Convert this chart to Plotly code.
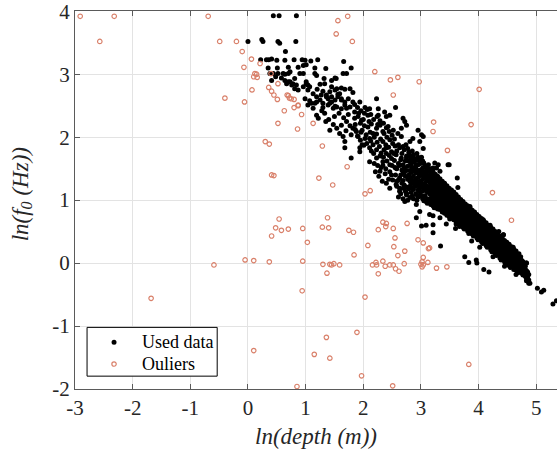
import plotly.graph_objects as go

# ---- data: ln(depth) vs ln(f0) ----
# sparse upper cloud of retained points
used_top = [
    (0.44, 3.93), (0.54, 3.93), (0.84, 3.93),
    (0.00, 3.52), (0.24, 3.55), (0.26, 3.52), (0.52, 3.52), (0.55, 3.49), (0.83, 3.52), (0.65, 3.36),
    (0.22, 3.23), (0.32, 3.23), (0.36, 3.23), (0.41, 3.24), (0.50, 3.22), (0.64, 3.22), (0.80, 3.23),
    (0.94, 3.23), (0.99, 3.22), (1.09, 3.21), (1.21, 3.23), (1.66, 3.20),
    (0.35, 3.10), (0.51, 3.10), (0.70, 3.11), (0.87, 3.11), (0.96, 3.14), (1.01, 3.15), (1.16, 3.10),
    (1.35, 3.09), (1.79, 3.10),
    (0.38, 3.01), (0.44, 3.01), (0.52, 3.01), (0.61, 3.01), (0.64, 3.00), (0.70, 3.01), (0.73, 3.04),
    (0.90, 3.01), (0.96, 3.01), (1.16, 3.01), (1.19, 2.98), (1.65, 3.01), (1.71, 3.01),
    (0.48, 2.96), (0.58, 2.94), (0.41, 2.90), (0.64, 2.90), (0.73, 2.88), (0.78, 2.85), (0.67, 2.85),
    (0.84, 2.83), (0.81, 2.93), (1.01, 2.88), (1.04, 2.83), (1.07, 2.80), (1.25, 2.84), (1.33, 2.85),
    (1.45, 2.90), (1.51, 2.94), (1.54, 2.77), (1.62, 2.78), (1.68, 2.76), (1.77, 2.77), (1.82, 2.71),
    (1.59, 2.69), (1.42, 2.72), (1.30, 2.73), (1.27, 2.67),
    (0.70, 2.88), (0.76, 2.83), (0.81, 2.77), (0.87, 2.75), (0.96, 2.80), (1.01, 2.85), (1.04, 2.75),
    (1.13, 2.69), (1.19, 2.64), (1.25, 2.59), (1.30, 2.54), (1.36, 2.67), (1.45, 2.64), (1.51, 2.75),
    (1.56, 2.68), (1.62, 2.59), (1.68, 2.51), (1.42, 2.54), (1.51, 2.49), (1.16, 2.54), (1.07, 2.58),
    (0.99, 2.61), (1.32, 2.93), (1.53, 2.93), (1.45, 2.80), (1.20, 2.76),
]

# medium-density middle section
used_mid = [
    (1.04, 2.51), (1.10, 2.54), (1.13, 2.46), (1.19, 2.56), (1.36, 2.64), (1.39, 2.61), (1.45, 2.56),
    (1.51, 2.59), (1.56, 2.64), (1.62, 2.61), (1.68, 2.56), (1.74, 2.61), (1.82, 2.56), (1.77, 2.48),
    (1.71, 2.46), (1.62, 2.45), (1.54, 2.48), (1.48, 2.46), (1.39, 2.51), (1.30, 2.47), (1.94, 2.56),
    (2.03, 2.47), (2.11, 2.45), (2.23, 2.61), (2.26, 2.45), (2.37, 2.40), (2.40, 2.33), (2.46, 2.35),
    (2.56, 2.47), (2.26, 2.35),
    (1.19, 2.35), (1.22, 2.30), (1.42, 2.11), (1.54, 2.14), (1.62, 2.19), (1.71, 2.25), (1.77, 2.18),
    (1.82, 2.14), (1.59, 2.06), (1.65, 2.01), (1.68, 1.93), (1.79, 2.04), (1.88, 2.09), (1.91, 2.01),
    (1.98, 2.11), (2.05, 2.04), (2.11, 1.98), (2.17, 2.06), (2.23, 2.14), (2.29, 2.19), (2.34, 2.09),
    (2.43, 2.17), (2.52, 2.11), (2.60, 2.06), (2.66, 2.14), (2.72, 2.25), (2.75, 2.19), (2.69, 2.30),
    (3.01, 2.04), (2.98, 1.93), (2.81, 1.93), (2.86, 1.98), (2.95, 2.11), (3.04, 2.01), (2.66, 2.01),
    (1.68, 1.83), (1.79, 1.67), (1.94, 1.83), (1.94, 1.77), (1.98, 1.88), (2.11, 1.83), (2.17, 1.88),
    (2.23, 1.80), (2.31, 1.75), (2.40, 1.83), (2.49, 1.77), (2.11, 1.61), (2.23, 1.67), (2.34, 1.61),
    (2.29, 1.46), (2.46, 1.56), (2.49, 1.40),
    (1.33, 2.38), (1.40, 2.28), (1.50, 2.33), (1.58, 2.38), (1.66, 2.31), (1.74, 2.36), (1.85, 2.30),
    (1.92, 2.38), (2.00, 2.28), (2.08, 2.35), (1.95, 2.22), (2.02, 2.18), (2.10, 2.25), (1.86, 2.20),
    (1.70, 2.10), (1.48, 2.20), (1.28, 2.42), (1.35, 2.25),
    (1.85, 2.52), (1.85, 2.40), (1.86, 2.12), (1.90, 2.47), (1.91, 2.33), (1.90, 2.02),
    (1.96, 2.42), (1.97, 2.27), (1.96, 2.08), (1.95, 1.95), (2.02, 2.38), (2.03, 1.98), (2.01, 1.87),
    (2.07, 2.44), (2.08, 2.16), (2.06, 1.90), (2.13, 2.36), (2.14, 2.21), (2.12, 2.08), (2.13, 1.94),
    (2.14, 1.78), (2.18, 2.28), (2.19, 2.00), (2.18, 1.74), (2.24, 2.33), (2.25, 2.20), (2.23, 2.05),
    (2.24, 1.92), (2.25, 1.55), (2.29, 2.26), (2.30, 1.97), (2.28, 1.85), (2.29, 1.70), (2.35, 2.22),
    (2.36, 2.06), (2.34, 1.93), (2.36, 1.80), (2.35, 1.68), (2.34, 1.55), (2.40, 2.15), (2.41, 2.00),
    (2.39, 1.88), (2.40, 1.74), (2.41, 1.62), (2.39, 1.50), (2.45, 2.09), (2.46, 1.96), (2.44, 1.84),
    (2.45, 1.71), (2.46, 1.45), (2.50, 2.03), (2.51, 1.90), (2.49, 1.66), (2.50, 1.55), (2.51, 1.32),
    (2.54, 1.97), (2.55, 1.86), (2.53, 1.74), (2.54, 1.63), (2.55, 1.52), (2.56, 1.40), (2.57, 1.72),
    (2.57, 1.51), (2.66, 1.67), (2.75, 1.67), (2.81, 1.61), (2.92, 1.56), (3.04, 1.59), (2.86, 1.51),
    (2.69, 1.46), (2.98, 1.40), (3.09, 1.46), (3.21, 1.51), (3.27, 1.51), (3.30, 1.56), (3.47, 1.56),
    (3.63, 1.35), (3.24, 1.59), (3.33, 1.46), (3.49, 1.56), (3.04, 1.82), (2.86, 1.64), (2.74, 1.88),
    (2.21, 1.45), (2.27, 1.38), (2.33, 1.30), (2.38, 1.42), (2.44, 1.33), (2.19, 1.58), (2.31, 1.52),
]

# dense main band, first set of columns: x value and the ln(f0) values read in that column
band_x = [
    2.58, 2.63, 2.67, 2.71, 2.75, 2.79, 2.83, 2.87, 2.91, 2.95, 2.99, 3.03, 3.07, 3.11, 3.15,
    3.19, 3.23, 3.27, 3.31, 3.35, 3.39, 3.43, 3.47, 3.51, 3.55, 3.59, 3.63, 3.67, 3.71, 3.75,
    3.79, 3.83, 3.87, 3.91, 3.95, 3.99, 4.03, 4.07, 4.11, 4.15, 4.19, 4.23, 4.27, 4.31, 4.35,
    4.39, 4.43, 4.47, 4.51, 4.55, 4.59, 4.63, 4.67, 4.71, 4.75, 4.79, 4.83, 4.87,
]
band_y = [
    [1.78, 1.50, 1.30, 1.22],
    [1.83, 1.55, 1.35, 1.19],
    [1.74, 1.48, 1.27],
    [1.80, 1.52, 1.43, 1.24],
    [1.70, 1.47, 1.21, 1.08],
    [1.76, 1.62, 1.40, 1.18],
    [1.67, 1.55, 1.44, 1.35, 1.26, 1.12],
    [1.72, 1.60, 1.49, 1.38, 1.28, 1.17, 1.02],
    [1.63, 1.52, 1.43, 1.33, 1.22, 1.10],
    [1.68, 1.56, 1.45, 1.36, 1.27, 1.16, 1.05],
    [1.58, 1.48, 1.39, 1.30, 1.20, 1.09],
    [1.62, 1.51, 1.42, 1.33, 1.24, 1.14, 1.02],
    [1.55, 1.45, 1.36, 1.27, 1.18, 1.07],
    [1.50, 1.40, 1.31, 1.22, 1.13, 1.02, 0.95],
    [1.46, 1.37, 1.28, 1.19, 1.10, 1.00],
    [1.42, 1.33, 1.25, 1.16, 1.07, 0.97],
    [1.38, 1.29, 1.21, 1.13, 1.04, 0.95, 0.88],
    [1.34, 1.26, 1.18, 1.10, 1.01, 0.92],
    [1.31, 1.23, 1.15, 1.07, 0.98, 0.90],
    [1.27, 1.19, 1.11, 1.03, 0.95, 0.87],
    [1.24, 1.16, 1.08, 1.00, 0.92, 0.84],
    [1.20, 1.12, 1.05, 0.97, 0.89, 0.82],
    [1.16, 1.09, 1.02, 0.94, 0.87, 0.79],
    [1.13, 1.06, 0.99, 0.91, 0.84, 0.77],
    [1.10, 1.03, 0.96, 0.89, 0.81, 0.74],
    [1.06, 0.99, 0.92, 0.85, 0.78, 0.71],
    [1.02, 0.95, 0.89, 0.82, 0.75, 0.68],
    [0.98, 0.92, 0.86, 0.79, 0.72, 0.66, 0.58],
    [0.95, 0.89, 0.83, 0.76, 0.69, 0.63],
    [0.91, 0.85, 0.79, 0.73, 0.66, 0.60, 0.54],
    [0.88, 0.82, 0.76, 0.70, 0.63, 0.57],
    [0.85, 0.79, 0.73, 0.67, 0.61, 0.54, 0.47],
    [0.81, 0.75, 0.70, 0.64, 0.58, 0.52],
    [0.78, 0.72, 0.66, 0.61, 0.55, 0.49, 0.43],
    [0.74, 0.69, 0.63, 0.57, 0.52, 0.46],
    [0.71, 0.66, 0.60, 0.54, 0.49, 0.43, 0.37],
    [0.68, 0.62, 0.57, 0.51, 0.46, 0.40],
    [0.64, 0.59, 0.54, 0.48, 0.42, 0.37, 0.31],
    [0.61, 0.56, 0.50, 0.45, 0.39, 0.34],
    [0.57, 0.52, 0.47, 0.41, 0.36, 0.30, 0.25],
    [0.54, 0.49, 0.44, 0.38, 0.33, 0.27],
    [0.51, 0.46, 0.40, 0.35, 0.29, 0.24, 0.18],
    [0.47, 0.42, 0.37, 0.32, 0.26, 0.21],
    [0.44, 0.39, 0.34, 0.28, 0.23, 0.17, 0.12],
    [0.40, 0.35, 0.30, 0.25, 0.20, 0.14],
    [0.37, 0.32, 0.27, 0.22, 0.16, 0.11, 0.05],
    [0.45, 0.33, 0.28, 0.23, 0.18, 0.13, 0.07],
    [0.30, 0.25, 0.20, 0.15, 0.10, 0.04, -0.01],
    [0.27, 0.22, 0.16, 0.11, 0.06, 0.01],
    [0.23, 0.18, 0.13, 0.08, 0.03, -0.03, -0.07],
    [0.20, 0.15, 0.10, 0.05, 0.00, -0.06],
    [0.16, 0.11, 0.06, 0.01, -0.04, -0.09],
    [0.12, 0.07, 0.02, -0.03, -0.08, -0.13],
    [0.08, 0.03, -0.02, -0.07, -0.12],
    [0.04, -0.01, -0.06, -0.11, -0.16],
    [-0.02, -0.08, -0.13, -0.18],
    [0.00, -0.12, -0.20, -0.24],
    [-0.18, -0.27, -0.32],
]

# dense main band, second set of columns lying between the first
band2_x = [
    2.61, 2.65, 2.69, 2.73, 2.77, 2.81, 2.85, 2.89, 2.93, 2.97, 3.01, 3.05, 3.09, 3.13, 3.17,
    3.21, 3.25, 3.29, 3.33, 3.37, 3.41, 3.45, 3.49, 3.53, 3.57, 3.61, 3.65, 3.69, 3.73, 3.77,
    3.81, 3.85, 3.89, 3.93, 3.97, 4.01, 4.05, 4.09, 4.13, 4.17, 4.21, 4.25, 4.29, 4.33, 4.37,
    4.41, 4.45, 4.49, 4.53, 4.57, 4.61, 4.65, 4.69, 4.73, 4.77, 4.81, 4.85,
]
band2_y = [
    [1.88, 1.58, 1.32, 1.05],
    [1.64, 1.40, 1.10],
    [1.85, 1.56, 1.31, 1.02],
    [1.62, 1.38, 1.14],
    [1.82, 1.54, 1.33, 1.00],
    [1.71, 1.47, 1.22],
    [1.78, 1.52, 1.31, 1.06],
    [1.66, 1.46, 1.25],
    [1.74, 1.48, 1.30, 1.00],
    [1.63, 1.41, 1.23],
    [1.68, 1.45, 1.27, 1.06],
    [1.59, 1.39, 1.21, 0.99],
    [1.53, 1.34, 1.16],
    [1.56, 1.34, 1.16, 0.97],
    [1.50, 1.40, 1.31, 1.22, 1.13, 1.03, 0.93],
    [1.45, 1.35, 1.27, 1.18, 1.10, 1.00, 0.91],
    [1.41, 1.32, 1.24, 1.15, 1.07, 0.98, 0.89],
    [1.38, 1.29, 1.21, 1.13, 1.04, 0.96, 0.86],
    [1.34, 1.25, 1.17, 1.09, 1.01, 0.93, 0.85],
    [1.30, 1.22, 1.14, 1.06, 0.98, 0.90, 0.81],
    [1.27, 1.18, 1.10, 1.02, 0.95, 0.87, 0.79],
    [1.23, 1.15, 1.07, 0.99, 0.92, 0.84, 0.76],
    [1.19, 1.12, 1.05, 0.97, 0.90, 0.82, 0.74],
    [1.16, 1.09, 1.02, 0.94, 0.87, 0.80, 0.72],
    [1.13, 1.06, 0.99, 0.92, 0.84, 0.77, 0.69],
    [1.09, 1.02, 0.95, 0.88, 0.81, 0.74, 0.66],
    [1.05, 0.99, 0.92, 0.85, 0.78, 0.71, 0.63],
    [1.01, 0.95, 0.88, 0.82, 0.75, 0.69, 0.61],
    [0.98, 0.92, 0.86, 0.79, 0.72, 0.66, 0.57],
    [0.94, 0.88, 0.82, 0.76, 0.69, 0.63, 0.56],
    [0.91, 0.85, 0.79, 0.73, 0.66, 0.60, 0.51],
    [0.88, 0.82, 0.76, 0.70, 0.64, 0.57, 0.50],
    [0.84, 0.78, 0.73, 0.67, 0.61, 0.55, 0.46],
    [0.81, 0.75, 0.69, 0.64, 0.58, 0.52, 0.45],
    [0.77, 0.72, 0.66, 0.60, 0.55, 0.49, 0.40],
    [0.74, 0.69, 0.63, 0.57, 0.52, 0.46, 0.39],
    [0.71, 0.65, 0.60, 0.54, 0.49, 0.43, 0.34],
    [0.67, 0.62, 0.57, 0.51, 0.45, 0.40, 0.33],
    [0.64, 0.59, 0.53, 0.48, 0.42, 0.37, 0.28],
    [0.60, 0.55, 0.50, 0.44, 0.39, 0.33, 0.27],
    [0.57, 0.52, 0.47, 0.41, 0.36, 0.30, 0.21],
    [0.54, 0.49, 0.43, 0.38, 0.32, 0.27, 0.20],
    [0.50, 0.45, 0.40, 0.35, 0.29, 0.24, 0.15],
    [0.47, 0.42, 0.37, 0.31, 0.26, 0.20, 0.14],
    [0.43, 0.38, 0.33, 0.28, 0.23, 0.17, 0.08],
    [0.40, 0.35, 0.30, 0.25, 0.19, 0.14, 0.08],
    [0.36, 0.31, 0.26, 0.21, 0.16, 0.10, 0.02],
    [0.33, 0.28, 0.23, 0.18, 0.13, 0.07, 0.02],
    [0.30, 0.25, 0.19, 0.14, 0.09, 0.04, -0.04],
    [0.26, 0.21, 0.16, 0.11, 0.06, 0.00, -0.05],
    [0.22, 0.17, 0.12, 0.07, 0.02, -0.03, -0.10],
    [0.19, 0.14, 0.09, 0.04, -0.01, -0.06, -0.11],
    [0.14, 0.09, 0.04, -0.01, -0.06, -0.10, -0.15],
    [0.10, 0.05, 0.00, -0.05, -0.09, -0.14],
    [0.02, -0.04, -0.09, -0.14, -0.19],
    [-0.05, -0.10, -0.16, -0.21],
    [-0.14, -0.22, -0.28],
]

# scattered retained points around the band and the deep tail
used_stray = [
    (2.40, 1.27), (2.46, 1.19), (2.57, 1.25), (2.63, 1.14), (2.69, 1.19), (2.72, 0.98), (2.81, 1.30),
    (2.86, 1.19), (2.92, 1.09), (2.98, 1.14), (2.81, 1.04), (2.75, 1.11), (2.92, 0.93), (2.98, 0.82),
    (2.92, 0.72), (3.21, 0.75), (3.44, 0.82), (3.09, 0.98), (3.15, 0.77), (3.27, 0.88), (3.33, 0.72),
    (3.44, 0.62), (3.61, 0.62), (3.50, 0.70), (3.01, 0.59), (3.09, 0.60), (3.21, 0.61), (3.21, 0.48),
    (3.34, 0.27), (3.76, 0.10), (3.83, 0.01), (3.96, 0.05), (3.97, 0.00), (4.09, -0.10), (4.18, -0.14),
    (3.97, 0.76), (4.08, 0.69), (4.05, 0.67), (4.43, 0.45), (4.57, 0.19), (4.83, 0.00), (4.77, -0.12),
    (3.64, 1.20), (3.70, 0.96), (3.85, 0.90), (4.20, 0.60), (4.35, 0.50), (4.60, 0.25), (4.70, 0.15),
    (4.25, 0.10), (4.45, -0.05), (4.65, -0.18), (4.02, 0.25), (3.88, 0.35), (3.60, 0.55),
    (4.83, -0.28), (4.89, -0.32), (5.02, -0.40), (5.09, -0.46), (5.13, -0.43), (5.29, -0.65),
    (5.35, -0.60),
]

# points flagged as outliers
outliers = [
    (-2.91, 3.92), (-2.32, 3.92), (-2.57, 3.52), (-0.69, 3.92), (-0.49, 3.52), (-0.20, 3.52),
    (-0.10, 3.36), (0.06, 3.24), (0.21, 3.17), (-0.07, 3.11), (0.12, 3.01), (0.15, 3.00), (0.10, 2.96),
    (0.16, 2.95), (0.07, 2.75), (-0.40, 2.62), (-0.06, 2.56), (0.36, 2.79), (0.41, 2.73), (0.45, 2.67),
    (0.51, 2.60), (0.40, 3.01), (0.52, 2.85), (0.52, 2.22), (0.30, 1.93), (0.37, 1.89), (0.41, 1.40),
    (0.45, 1.39), (0.68, 2.67), (0.70, 2.66), (0.72, 2.62), (0.75, 2.61), (0.80, 2.60), (0.87, 2.51),
    (0.63, 2.42), (0.80, 2.47), (0.87, 2.50), (0.93, 2.36), (0.86, 2.13), (1.13, 2.22), (1.29, 1.86),
    (1.23, 1.35), (1.47, 1.24), (1.72, 1.53), (1.56, 3.85), (1.53, 3.64), (1.73, 3.92), (1.81, 3.52),
    (2.20, 3.04), (2.47, 2.91), (2.60, 2.95), (2.97, 2.88), (4.01, 2.76), (2.52, 2.67), (3.22, 2.24),
    (3.21, 2.09), (3.87, 2.20), (3.46, 1.79), (4.24, 1.12), (4.57, 0.68), (2.03, 1.10), (2.12, 1.15),
    (0.54, 0.70), (0.48, 0.56), (0.58, 0.52), (0.70, 0.54), (0.41, 0.43), (0.95, 0.55), (1.03, 0.33),
    (1.29, 0.57), (1.38, 0.72), (1.40, 0.56), (1.75, 0.52), (1.83, 0.49), (1.84, 0.13), (2.08, 0.28),
    (2.26, 0.53), (2.34, 0.65), (2.40, 0.63), (2.39, 0.58), (2.52, 0.55), (2.76, 0.63), (2.55, 0.40),
    (2.53, 0.26), (2.72, 0.19), (2.60, 0.12), (2.95, 0.37), (3.04, 0.32), (3.13, 0.23), (3.04, 0.09),
    (3.02, 0.02), (3.04, -0.03), (3.00, -0.02), (3.02, -0.06), (3.12, 0.01), (2.71, -0.01),
    (2.56, -0.09), (2.62, -0.13), (2.52, -0.03), (2.46, -0.03), (2.38, -0.05), (2.34, 0.03),
    (2.22, 0.01), (2.23, -0.03), (2.16, -0.03), (2.26, -0.17), (2.03, -0.54), (0.10, 0.04),
    (0.37, 0.02), (0.95, 0.03), (1.30, -0.02), (1.42, -0.02), (1.45, -0.03), (1.49, -0.01),
    (1.59, -0.03), (1.37, -0.16), (0.94, -0.44), (1.89, -1.10), (1.36, -1.18), (1.15, -1.45),
    (1.42, -1.51), (0.10, -1.39), (1.97, -1.79), (0.85, -1.96), (2.51, -1.95), (3.83, -1.61),
    (-1.68, -0.56), (-0.59, -0.03), (-0.05, 0.05), (3.27, -0.08), (3.45, -0.06), (3.15, 0.24),
]

x_ticks = [-3, -2, -1, 0, 1, 2, 3, 4, 5]
x_tick_text = ["-3", "-2", "-1", "0", "1", "2", "3", "4", "5"]
y_ticks = [-2, -1, 0, 1, 2, 3, 4]
y_tick_text = ["-2", "-1", "0", "1", "2", "3", "4"]

# ---- assemble retained series ----
used_pts = list(used_top) + list(used_mid)
for bx, ys in zip(band_x, band_y):
    used_pts += [(bx, v) for v in ys]
for bx, ys in zip(band2_x, band2_y):
    used_pts += [(bx, v) for v in ys]
used_pts += used_stray
ux = [p[0] for p in used_pts]
uy = [p[1] for p in used_pts]
ox = [p[0] for p in outliers]
oy = [p[1] for p in outliers]

FONT = "Liberation Serif"
INK = "#262626"
AXIS = "#5a5a5a"
DOT = "black"
RING = "#D9806A"

fig = go.Figure()
fig.add_trace(go.Scatter(
    x=ux, y=uy, mode="markers", name="Used data", showlegend=False,
    marker=dict(color=DOT, size=5, line=dict(width=0)),
))
fig.add_trace(go.Scatter(
    x=ox, y=oy, mode="markers", name="Ouliers", showlegend=False,
    marker=dict(symbol="circle-open", color=RING, size=4.5, line=dict(width=1.2)),
))

axis_common = dict(
    showgrid=True, gridcolor="#E3E3E3", gridwidth=1,
    zeroline=False, showline=True, linecolor=AXIS, linewidth=1,
    ticks="inside", ticklen=5, tickcolor=AXIS, ticklabeloverflow="allow",
    tickfont=dict(family=FONT, size=21, color=INK),
)

# legend box drawn in paper coordinates (lower-left corner of the axes)
leg_x0, leg_x1, leg_y0, leg_y1 = 0.025, 0.295, 0.034, 0.163
leg_sym_x, leg_txt_x = 0.081, 0.135
leg_rows = [("Used data", 0.124), ("Ouliers", 0.066)]

shapes = [dict(type="rect", xref="paper", yref="paper", x0=leg_x0, x1=leg_x1, y0=leg_y0, y1=leg_y1,
               line=dict(color="black", width=1), fillcolor="white", layer="above")]
shapes.append(dict(type="circle", xref="paper", yref="paper", xsizemode="pixel", ysizemode="pixel",
                   xanchor=leg_sym_x, yanchor=leg_rows[0][1], x0=-2.5, x1=2.5, y0=-2.5, y1=2.5,
                   fillcolor=DOT, line=dict(width=0), layer="above"))
shapes.append(dict(type="circle", xref="paper", yref="paper", xsizemode="pixel", ysizemode="pixel",
                   xanchor=leg_sym_x, yanchor=leg_rows[1][1], x0=-2.2, x1=2.2, y0=-2.2, y1=2.2,
                   fillcolor="rgba(0,0,0,0)", line=dict(color=RING, width=1.2), layer="above"))

annotations = [dict(text=label, xref="paper", yref="paper", x=leg_txt_x, y=yy,
                    xanchor="left", yanchor="middle", showarrow=False,
                    font=dict(family=FONT, size=18, color="black"))
               for label, yy in leg_rows]

# y-axis title placed as a rotated annotation left of the tick labels
annotations.append(dict(
    text="ln(f<sub>0</sub> (Hz))", xref="paper", yref="paper", x=0, y=0.515,
    xanchor="center", yanchor="middle", xshift=-53, textangle=-90, showarrow=False,
    font=dict(family=FONT, size=23, style="italic", color=INK),
))

fig.update_layout(
    width=557, height=453,
    margin=dict(l=75, r=0, t=9, b=64),
    paper_bgcolor="white", plot_bgcolor="white",
    font=dict(family=FONT),
    xaxis=dict(
        range=[-3, 5.36], tickvals=x_ticks, ticktext=x_tick_text, mirror="ticks",
        title=dict(text="ln(depth (m))", standoff=8,
                   font=dict(family=FONT, size=23, style="italic", color=INK)),
        **axis_common,
    ),
    yaxis=dict(
        range=[-2, 4.004], tickvals=y_ticks, ticktext=y_tick_text, mirror=False,
        **axis_common,
    ),
    shapes=shapes,
    annotations=annotations,
    showlegend=False,
)

fig.write_html("out.html")
